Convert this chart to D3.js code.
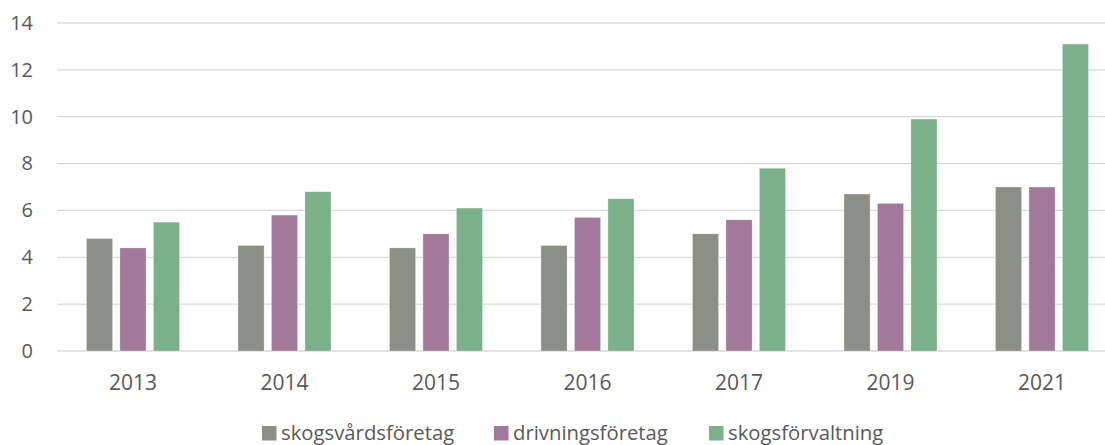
<!DOCTYPE html>
<html>
<head>
<meta charset="utf-8">
<script src="https://cdn.jsdelivr.net/npm/d3@7"></script>
<style>
  html, body { margin: 0; padding: 0; background: #fff; }
  svg { display: block; font-family: "Open Sans", "Liberation Sans", sans-serif; }
</style>
</head>
<body>
<svg id="chart" width="1105" height="445"></svg>
<script>
const categories = ["2013", "2014", "2015", "2016", "2017", "2019", "2021"];
const seriesNames = ["skogsvårdsföretag", "drivningsföretag", "skogsförvaltning"];
const skogsvardsforetag = [4.8, 4.5, 4.4, 4.5, 5.0, 6.7, 7.0];
const drivningsforetag = [4.4, 5.8, 5.0, 5.7, 5.6, 6.3, 7.0];
const skogsforvaltning = [5.5, 6.8, 6.1, 6.5, 7.8, 9.9, 13.1];
const yTicks = [0, 2, 4, 6, 8, 10, 12, 14];
const colors = ["#8c8f86", "#a2789b", "#7bb189"];

const seriesValues = [skogsvardsforetag, drivningsforetag, skogsforvaltning];
const data = categories.map((c, i) => ({
  cat: c,
  vals: seriesNames.map((s, j) => ({ key: s, value: seriesValues[j][i], color: colors[j] }))
}));

const svg = d3.select("#chart");
const plotLeft = 57.25, plotRight = 1117.75, plotTop = 23, plotBottom = 351;

const x = d3.scaleBand().domain(categories).range([plotLeft, plotRight])
  .paddingInner(0.386).paddingOuter(0.193);
const xs = d3.scaleBand().domain(seriesNames).range([0, x.bandwidth()])
  .paddingInner(0.22).paddingOuter(0);
const y = d3.scaleLinear().domain([0, 14]).range([plotBottom, plotTop]);

// gridlines
svg.append("g").selectAll("line").data(yTicks).join("line")
  .attr("x1", plotLeft).attr("x2", 1105)
  .attr("y1", d => y(d)).attr("y2", d => y(d))
  .attr("stroke", "#d9d9d9").attr("stroke-width", 1.3);

// y axis labels
const yAxis = d3.axisLeft(y).tickValues(yTicks).tickSize(0).tickPadding(0);
const gy = svg.append("g").attr("transform", "translate(33,0)").call(yAxis);
gy.select(".domain").remove();
gy.selectAll("text").attr("font-size", 20).attr("fill", "#595959")
  .style("font-family", "'Open Sans', sans-serif");

// bars
const groups = svg.append("g").selectAll("g").data(data).join("g")
  .attr("transform", d => `translate(${x(d.cat)},0)`);
groups.selectAll("rect").data(d => d.vals).join("rect")
  .attr("x", d => xs(d.key))
  .attr("width", xs.bandwidth())
  .attr("y", d => y(d.value))
  .attr("height", d => y(0) - y(d.value))
  .attr("fill", d => d.color)
  .attr("stroke", "#ffffff").attr("stroke-opacity", 0.35).attr("stroke-width", 0.8);

// x axis labels
const xAxis = d3.axisBottom(x).tickSize(0).tickPadding(0);
const gx = svg.append("g").attr("transform", `translate(0,${plotBottom})`).call(xAxis);
gx.select(".domain").remove();
gx.selectAll("text").attr("font-size", 21).attr("fill", "#595959")
  .attr("y", 39).attr("dy", 0)
  .style("font-family", "'Open Sans', sans-serif");

// legend
const legendX = [262, 494, 709];
const leg = svg.append("g").selectAll("g").data(seriesNames).join("g")
  .attr("transform", (d, i) => `translate(${legendX[i]},426)`);
leg.append("rect").attr("width", 14.5).attr("height", 14.5).attr("fill", (d, i) => colors[i]);
leg.append("text").attr("x", 19).attr("y", 14).attr("font-size", 20.3)
  .attr("fill", "#595959").text(d => d);
</script>
</body>
</html>
